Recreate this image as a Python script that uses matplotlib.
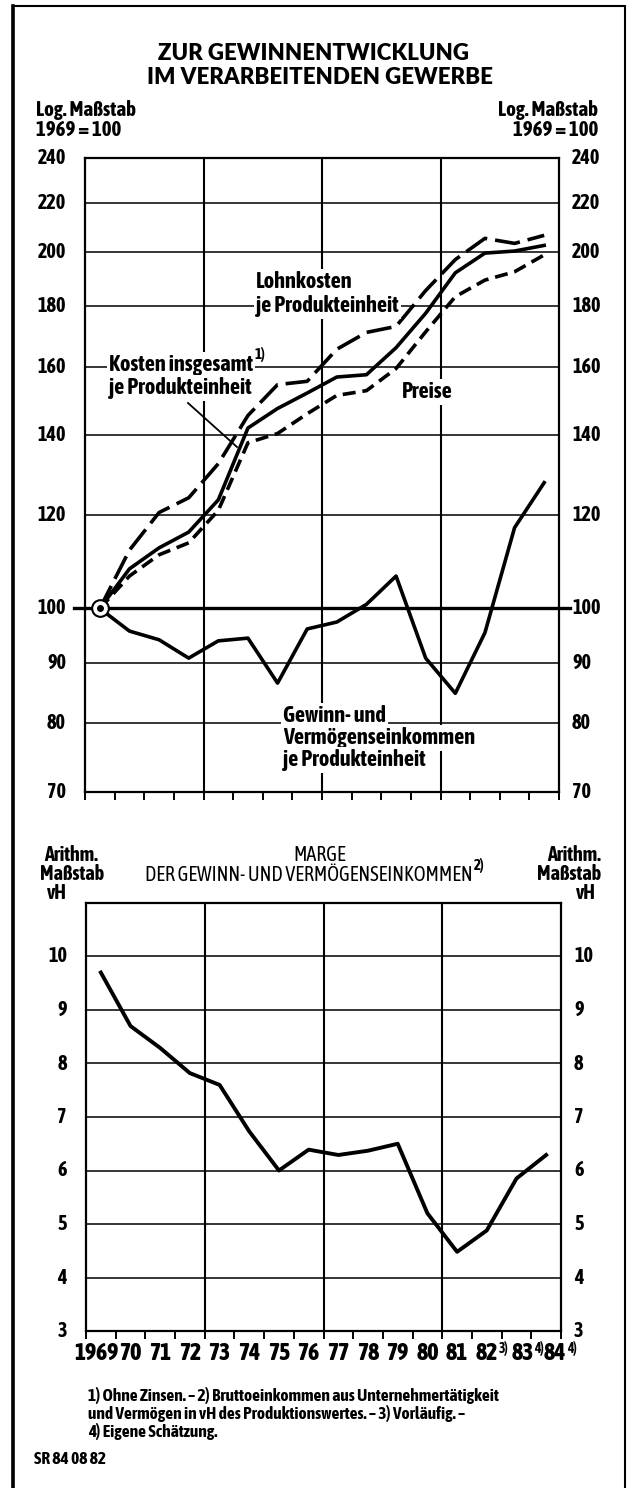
import matplotlib
matplotlib.use('Agg')
import matplotlib.pyplot as plt
from matplotlib import font_manager as fm
from matplotlib.patches import Rectangle
from matplotlib.lines import Line2D
from matplotlib.ticker import NullLocator


def gewicht(w):
    if isinstance(w, str):
        return fm.weight_dict.get(w, 400)
    return int(w)


# schmale, fette Schrift suchen, sonst DejaVu Sans etwas kleiner
schmal, faktor = 'DejaVu Sans', 0.8
kandidaten = [f for f in fm.fontManager.ttflist
              if ('Narrow' in f.name or 'Condensed' in f.name) and f.style == 'normal']
fett = [f for f in kandidaten if gewicht(f.weight) >= 600]
if fett:
    schmal, faktor = fett[0].name, 1.0
elif kandidaten:
    schmal, faktor = kandidaten[0].name, 1.0

plt.rcParams['font.family'] = [schmal, 'DejaVu Sans']
plt.rcParams['font.weight'] = 'bold'


def gr(s):
    return s * faktor


jahre = ['1969', '70', '71', '72', '73', '74', '75', '76', '77', '78',
         '79', '80', '81', '82', '83', '84']
jahr_fussnote = {'82': '3)', '83': '4)', '84': '4)'}
lohnkosten = [100, 112, 120.5, 124, 132.5, 145.5, 154.5, 155.5, 165.5, 171,
              173, 185.5, 197, 205.3, 203.3, 206.5]
kosten = [100, 108, 112.5, 116, 123.5, 142, 147.5, 152, 156.8, 157.5,
          166, 177.5, 192, 199.5, 200.3, 202.5]
preise = [100, 106.5, 111, 113.6, 121, 138, 140.5, 146, 151.3, 152.7,
          159.4, 171.2, 183.3, 189.3, 192.4, 198.8]
gewinn = [100, 95.7, 94.1, 90.8, 93.9, 94.4, 86.5, 96.1, 97.4, 100.8,
          106.5, 90.8, 84.8, 95.4, 117.0, 127.7]
marge = [9.7, 8.7, 8.29, 7.82, 7.6, 6.73, 6.0, 6.39, 6.29, 6.37,
         6.5, 5.2, 4.48, 4.88, 5.85, 6.29]
log_ticks = [70, 80, 90, 100, 120, 140, 160, 180, 200, 220, 240]
marge_ticks = [3, 4, 5, 6, 7, 8, 9, 10]

fussnoten = ['1) Ohne Zinsen. – 2) Bruttoeinkommen aus Unternehmertätigkeit',
             'und Vermögen in vH des Produktionswertes. – 3) Vorläufig. –',
             '4) Eigene Schätzung.']

xs = [i + 0.5 for i in range(len(jahre))]

W, H = 630, 1488
fig = plt.figure(figsize=(W / 100, H / 100), dpi=100)


def fx(px):
    return px / W


def fy(py):
    return 1 - py / H


def txt(px, py, s, **kw):
    kw.setdefault('va', 'center')
    return fig.text(fx(px), fy(py), s, **kw)


# Rahmen
fig.add_artist(Rectangle((fx(13), fy(1500)), fx(625) - fx(13), fy(6) - fy(1500),
                         transform=fig.transFigure, fill=False, lw=1.5, ec='black'))
fig.add_artist(Line2D([fx(13), fx(13)], [0, fy(6)], lw=2.6, color='black'))


def gestalte(ax, ticks, pad_l, pad_r):
    ax.set_xlim(0, 16)
    ax.set_xticks(range(17))
    ax.set_xticklabels([])
    ax.tick_params(axis='x', direction='out', length=6, width=1.4)
    ax.set_yticks(ticks)
    ax.yaxis.set_minor_locator(NullLocator())
    ax.set_yticklabels([])
    ax.tick_params(axis='y', length=0)
    ax.grid(axis='y', color='black', lw=1.1)
    for x in (4, 8, 12):
        ax.axvline(x, color='black', lw=1.5, zorder=1)
    for s in ax.spines.values():
        s.set_linewidth(1.6)
    for t in ticks:
        ax.annotate(str(t), xy=(0, t), xycoords=('axes fraction', 'data'),
                    xytext=(-pad_l, 0), textcoords='offset pixels',
                    ha='right', va='center', fontsize=gr(14.5))
        ax.annotate(str(t), xy=(1, t), xycoords=('axes fraction', 'data'),
                    xytext=(pad_r, 0), textcoords='offset pixels',
                    ha='left', va='center', fontsize=gr(14.5))


def hoch(ax, bezug, s, groesse, oben=0.62, va='bottom'):
    ax.annotate(s, xy=(1, oben), xycoords=bezug, xytext=(1, 0),
                textcoords='offset pixels', ha='left', va=va,
                fontsize=groesse, annotation_clip=False)


# ---------------- oberes Diagramm ----------------
ax1 = fig.add_axes([fx(85), fy(792), fx(559) - fx(85), fy(158) - fy(792)])
ax1.set_yscale('log')
ax1.set_ylim(70, 240)
gestalte(ax1, log_ticks, 19, 13)
ax1.plot([-0.37, 16.37], [100, 100], color='black', lw=2.4, clip_on=False, zorder=2)

ax1.plot(xs, lohnkosten, color='black', lw=2.6, dashes=(7, 2.2), zorder=3)
ax1.plot(xs, kosten, color='black', lw=2.6, zorder=3)
ax1.plot(xs, preise, color='black', lw=2.6, dashes=(3.6, 1.9), zorder=3)
ax1.plot(xs, gewinn, color='black', lw=2.6, zorder=3)
ax1.plot(xs[0], gewinn[0], 'o', ms=12, mfc='white', mec='black', mew=1.5, zorder=5)
ax1.plot(xs[0], gewinn[0], 'o', ms=4, color='black', zorder=6)

weiss = dict(facecolor='white', edgecolor='none', pad=1.5)
ann = gr(16)
txt(256, 282, 'Lohnkosten', fontsize=ann, bbox=weiss)
txt(256, 306, 'je Produkteinheit', fontsize=ann, bbox=weiss)
t = txt(109, 365, 'Kosten insgesamt', fontsize=ann, bbox=weiss)
hoch(ax1, t, '1)', gr(11))
txt(109, 388, 'je Produkteinheit', fontsize=ann, bbox=weiss)
fig.add_artist(Line2D([fx(188), fx(237)], [fy(403), fy(447)], lw=1.3, color='black'))
txt(402, 392, 'Preise', fontsize=ann, bbox=weiss)
txt(283, 716, 'Gewinn- und', fontsize=ann, bbox=weiss)
txt(283, 738, 'Vermögenseinkommen', fontsize=ann, bbox=weiss)
txt(283, 760, 'je Produkteinheit', fontsize=ann, bbox=weiss)

# Überschriften
titel = dict(family=['Lato', 'DejaVu Sans'], fontsize=16, weight='heavy', ha='center')
txt(314, 53, 'ZUR GEWINNENTWICKLUNG', **titel)
txt(320, 78, 'IM VERARBEITENDEN GEWERBE', **titel)
txt(36, 110, 'Log. Maßstab', fontsize=gr(15))
txt(36, 130, '1969 = 100', fontsize=gr(15))
txt(598, 110, 'Log. Maßstab', fontsize=gr(15), ha='right')
txt(598, 130, '1969 = 100', fontsize=gr(15), ha='right')

# ---------------- unteres Diagramm ----------------
ax2 = fig.add_axes([fx(86), fy(1331), fx(561) - fx(86), fy(903) - fy(1331)])
ax2.set_ylim(3, 11)
gestalte(ax2, marge_ticks, 19, 13)
ax2.plot(xs, marge, color='black', lw=2.8, zorder=3)

txt(71, 855, 'Arithm.', fontsize=gr(14.5), ha='center')
txt(72, 874, 'Maßstab', fontsize=gr(14.5), ha='center')
txt(67, 893, 'vH', fontsize=gr(14.5), ha='right')
txt(601, 855, 'Arithm.', fontsize=gr(14.5), ha='right')
txt(601, 874, 'Maßstab', fontsize=gr(14.5), ha='right')
txt(576, 893, 'vH', fontsize=gr(14.5), ha='left')
txt(320, 855, 'MARGE', fontsize=gr(14.5), weight='normal', ha='center')
t = txt(145, 875, 'DER GEWINN- UND VERMÖGENSEINKOMMEN', fontsize=gr(14.5),
        weight='normal')
hoch(ax2, t, '2)', gr(11))

verschiebung = {'1969': -4, '83': 6, '84': 9}
for x, j in zip(xs, jahre):
    t = ax2.annotate(j, xy=(x, 0), xycoords=('data', 'axes fraction'),
                     xytext=(verschiebung.get(j, 0), -23), textcoords='offset pixels',
                     ha='center', va='center', fontsize=gr(17), weight='heavy')
    if j in jahr_fussnote:
        hoch(ax2, t, jahr_fussnote[j], gr(10), oben=1.06, va='top')

for k, zeile in enumerate(fussnoten):
    txt(88, 1396 + 17.5 * k, zeile, fontsize=gr(12.5))
txt(34, 1459, 'SR 84 08 82', fontsize=gr(12.5))

fig.savefig('out.png', dpi=100)
